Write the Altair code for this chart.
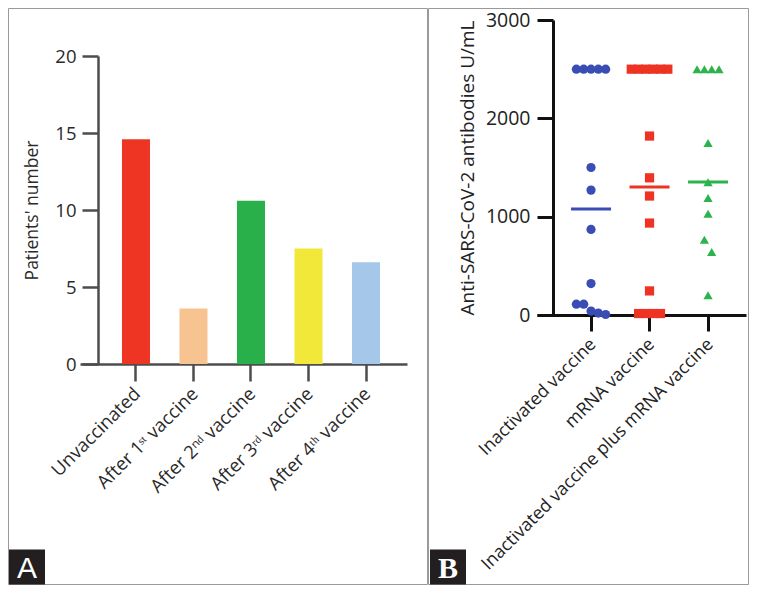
import altair as alt
import pandas as pd

# ---------------- Panel A data ----------------
stages = ["Unvaccinated", "After 1ˢᵗ vaccine", "After 2ⁿᵈ vaccine",
          "After 3ʳᵈ vaccine", "After 4ᵗʰ vaccine"]
patients = [14.6, 3.6, 10.6, 7.5, 6.6]
bar_colors = ["#ee3524", "#f7c391", "#29b04b", "#f1e83a", "#a5c8ea"]

# ---------------- Panel B data ----------------
groups = ["Inactivated vaccine", "mRNA vaccine", "Inactivated vaccine plus mRNA vaccine"]
inactivated = [2500, 2500, 2500, 2500, 2500, 1500, 1270, 870, 320, 110, 110, 40, 20, 5]
mrna = [2500, 2500, 2500, 2500, 2500, 2500, 1820, 1395, 1210, 935, 245, 15, 15, 15, 15]
combo = [2500, 2500, 2500, 2500, 1750, 1350, 1190, 1030, 765, 640, 200]
center_lines = [1078, 1302, 1353]
point_colors = ["#3a4db5", "#ef3323", "#2db34b"]
point_shapes = ["circle", "square", "triangle-up"]

FONT = "Open Sans"

# scatter-dot-plot spreading of near-tied values
def spread(vals, thr=150):
    vs = sorted(vals, reverse=True)
    out = []
    i = 0
    while i < len(vs):
        j = i
        while j + 1 < len(vs) and vs[i] - vs[j + 1] < thr:
            j += 1
        n = j - i + 1
        for k in range(n):
            out.append((vs[i + k], k - (n - 1) / 2))
        i = j + 1
    return out

rows = []
for g, vals in zip(groups, [inactivated, mrna, combo]):
    for v, s in spread(vals):
        rows.append({"group": g, "value": v, "slot": s})
dfB = pd.DataFrame(rows)
dfL = pd.DataFrame({"group": groups, "value": center_lines})
dfA = pd.DataFrame({"stage": stages, "patients": patients})

blank = alt.Data(values=[{}])

# frame extents relative to each plot's top edge
F_TOP, F_BOT = -11.5, 564.5

# ---------------- Panel A ----------------
A_W, A_H = 327, 344
A_TOP = 36
axA_col = "#4d4d4d"
xA = alt.X("stage:N", sort=stages,
           scale=alt.Scale(domain=stages, paddingInner=0.51, paddingOuter=0.598, align=0.609),
           axis=alt.Axis(title=None, labelAngle=315, labelAlign="right", labelBaseline="top",
                         labelPadding=3, labelOffset=-5, labelFont=FONT, labelFontSize=18.5,
                         labelColor="#2a2a2a", labelLimit=400, labelOverlap=False,
                         tickSize=17, tickWidth=2.5, tickColor=axA_col,
                         domainColor=axA_col, domainWidth=2.5))
yA = alt.Y("patients:Q", scale=alt.Scale(domain=[0, 20], nice=False, range=[A_H, A_TOP]),
           axis=alt.Axis(values=[0, 5, 10, 15, 20], offset=-18, grid=False,
                         tickSize=16, tickWidth=2.5, tickColor=axA_col,
                         domainColor=axA_col, domainWidth=2.5,
                         labelFont=FONT, labelFontSize=18.5, labelColor="#2a2a2a", labelPadding=6,
                         title="Patients' number", titleFont=FONT, titleFontSize=17.5,
                         titleFontWeight="normal", titleColor="#2a2a2a",
                         titleAngle=270, titleX=-66, titleY=(A_H + A_TOP) / 2,
                         titleAlign="center", titleBaseline="middle"))
bars = alt.Chart(dfA).mark_bar(size=28).encode(
    x=xA, y=yA,
    color=alt.Color("stage:N", scale=alt.Scale(domain=stages, range=bar_colors), legend=None))

frameA = alt.Chart(blank).mark_rect(fillOpacity=0, stroke="#9a9a9a", strokeWidth=1).encode(
    x=alt.value(-71.5), x2=alt.value(347.5), y=alt.value(F_TOP), y2=alt.value(F_BOT))
boxA = alt.Chart(blank).mark_rect(color="#231f20").encode(
    x=alt.value(-71), x2=alt.value(-35), y=alt.value(F_BOT - 35), y2=alt.value(F_BOT))
letterA = alt.Chart(blank).mark_text(text="A", font="Liberation Sans", fontSize=30,
                                     color="white", align="center", baseline="middle").encode(
    x=alt.value(-53), y=alt.value(F_BOT - 16))

panelA = alt.layer(frameA, bars, boxA, letterA).properties(width=A_W, height=A_H)

# ---------------- Panel B ----------------
B_W, B_H = 209, 295
axB_col = "#111111"
xB = alt.X("group:N", sort=groups,
           scale=alt.Scale(domain=groups, paddingInner=0, paddingOuter=0.286, align=0.74),
           axis=alt.Axis(title=None, labelAngle=315, labelAlign="right", labelBaseline="top",
                         labelPadding=4, labelOffset=-4, labelFont=FONT, labelFontSize=17.8,
                         labelColor="#222222", labelLimit=500, labelOverlap=False,
                         tickSize=16, tickWidth=3, tickColor=axB_col,
                         domainColor=axB_col, domainWidth=3))
yB = alt.Y("value:Q", scale=alt.Scale(domain=[0, 3000], nice=False),
           axis=alt.Axis(values=[0, 1000, 2000, 3000], format="d", offset=-16, grid=False,
                         tickSize=16, tickWidth=3, tickColor=axB_col,
                         domainColor=axB_col, domainWidth=3,
                         labelFont=FONT, labelFontSize=19.5, labelColor="#222222", labelPadding=7,
                         title="Anti-SARS-CoV-2 antibodies U/mL", titleFont=FONT, titleFontSize=19,
                         titleFontWeight="normal", titleColor="#222222",
                         titleAngle=270, titleX=-86, titleY=B_H / 2,
                         titleAlign="center", titleBaseline="middle"))
colB = alt.Color("group:N", scale=alt.Scale(domain=groups, range=point_colors), legend=None)

points = alt.Chart(dfB).mark_point(filled=True, size=85, opacity=1).encode(
    x=xB,
    xOffset=alt.XOffset("slot:Q", scale=alt.Scale(domain=[-4, 4])),
    y=yB,
    color=colB,
    shape=alt.Shape("group:N", scale=alt.Scale(domain=groups, range=point_shapes), legend=None))
lines = alt.Chart(dfL).mark_tick(size=40, thickness=3, opacity=1).encode(
    x=xB, y=yB, color=colB)

frameB = alt.Chart(blank).mark_rect(fillOpacity=0, stroke="#9a9a9a", strokeWidth=1).encode(
    x=alt.value(-108.5), x2=alt.value(211.5), y=alt.value(F_TOP), y2=alt.value(F_BOT))
boxB = alt.Chart(blank).mark_rect(color="#231f20").encode(
    x=alt.value(-107), x2=alt.value(-71), y=alt.value(F_BOT - 35), y2=alt.value(F_BOT))
letterB = alt.Chart(blank).mark_text(text="B", font="Liberation Serif", fontWeight="bold",
                                     fontSize=30, color="white", align="center",
                                     baseline="middle").encode(
    x=alt.value(-89), y=alt.value(F_BOT - 16))

panelB = alt.layer(frameB, lines, points, boxB, letterB).properties(width=B_W, height=B_H)

chart = alt.hconcat(panelA, panelB, spacing=0).resolve_scale(
    color="independent", shape="independent"
).properties(
    padding=0, background="white"
).configure_view(stroke=None)

chart.save("out.html", embed_options={"renderer": "svg", "actions": False})
